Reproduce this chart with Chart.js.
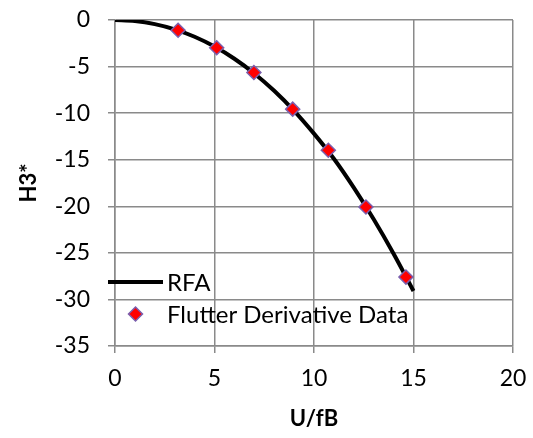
<!DOCTYPE html>
<html>
<head>
<meta charset="utf-8">
<script src="https://cdn.jsdelivr.net/npm/chart.js@4/dist/chart.umd.min.js"></script>
<style>
  html, body { margin: 0; padding: 0; background: #fff; }
  #wrap { width: 533px; height: 438px; }
</style>
</head>
<body>
<div id="wrap"><canvas id="c" width="533" height="438"></canvas></div>
<script>
// RFA fitted curve of H3* against reduced velocity U/fB
const rfaU = [0, 1, 2, 3, 4, 5, 6, 7, 8, 9, 10, 11, 12, 13, 14, 15];
const rfaH3 = [0, -0.11, -0.44, -1.0, -1.8, -2.85, -4.16, -5.74, -7.6, -9.75, -12.2, -14.9, -18.0, -21.4, -25.1, -29.1];

// Measured flutter derivative points
const dataU = [3.17, 5.11, 6.98, 8.93, 10.72, 12.61, 14.62];
const dataH3 = [-1.1, -2.98, -5.63, -9.57, -13.98, -20.07, -27.6];

// Axis ticks
const xTicks = [0, 5, 10, 15, 20];
const yTicks = [0, -5, -10, -15, -20, -25, -30, -35];

const FONT = 'Lato, "Open Sans", sans-serif';
const GRID = '#8a8a8a';

const toPoints = (xs, ys) => xs.map((x, i) => ({ x: x, y: ys[i] }));

// Legend drawn inside the plot area, lower left
const innerLegend = {
  id: 'innerLegend',
  afterDatasetsDraw(chart) {
    const ctx = chart.ctx;
    const ds = chart.data.datasets;
    ctx.save();
    ctx.font = '24px ' + FONT;
    ctx.textBaseline = 'middle';
    ctx.fillStyle = '#000';
    // line entry
    ctx.strokeStyle = ds[0].borderColor;
    ctx.lineWidth = 4;
    ctx.beginPath();
    ctx.moveTo(108, 282);
    ctx.lineTo(163, 282);
    ctx.stroke();
    ctx.fillText(ds[0].label, 167, 283);
    // marker entry
    const cx = 135.5, cy = 314, r = 7;
    ctx.beginPath();
    ctx.moveTo(cx, cy - r);
    ctx.lineTo(cx + r, cy);
    ctx.lineTo(cx, cy + r);
    ctx.lineTo(cx - r, cy);
    ctx.closePath();
    ctx.fillStyle = ds[1].backgroundColor;
    ctx.fill();
    ctx.lineWidth = 1.5;
    ctx.strokeStyle = ds[1].borderColor;
    ctx.stroke();
    ctx.fillStyle = '#000';
    ctx.fillText(ds[1].label, 167, 315);
    ctx.restore();
  }
};

new Chart(document.getElementById('c'), {
  type: 'scatter',
  data: {
    datasets: [
      {
        label: 'RFA',
        data: toPoints(rfaU, rfaH3),
        showLine: true,
        borderColor: '#000',
        backgroundColor: '#000',
        borderWidth: 4,
        pointRadius: 0,
        cubicInterpolationMode: 'monotone',
        order: 2
      },
      {
        label: 'Flutter Derivative Data',
        data: toPoints(dataU, dataH3),
        showLine: false,
        pointStyle: 'rectRot',
        pointRadius: 7,
        pointHoverRadius: 7,
        backgroundColor: '#ff0000',
        borderColor: '#7b5fae',
        borderWidth: 1.5,
        order: 1
      }
    ]
  },
  options: {
    responsive: false,
    animation: false,
    devicePixelRatio: 1,
    layout: { padding: { top: 20, right: 20, left: 0, bottom: 0 } },
    plugins: {
      legend: { display: false },
      tooltip: { enabled: false }
    },
    scales: {
      x: {
        type: 'linear',
        min: 0,
        max: 20,
        afterBuildTicks: (s) => { s.ticks = xTicks.map(v => ({ value: v })); },
        afterFit: (s) => { s.height = 92; s.paddingLeft = 0; s.paddingRight = 0; },
        grid: { color: GRID, lineWidth: 1.5, tickLength: 7, tickColor: GRID },
        border: { color: GRID, width: 1.5 },
        ticks: { color: '#000', font: { family: FONT, size: 23 }, padding: 12, maxRotation: 0 },
        title: {
          display: true,
          text: 'U/fB',
          color: '#000',
          font: { family: FONT, size: 22, weight: 'bold' },
          padding: { top: 0, bottom: 6 }
        }
      },
      y: {
        type: 'linear',
        min: -35,
        max: 0,
        afterBuildTicks: (s) => { s.ticks = yTicks.map(v => ({ value: v })); },
        afterFit: (s) => { s.width = 115; s.paddingTop = 0; s.paddingBottom = 0; },
        grid: { color: GRID, lineWidth: 1.5, tickLength: 7, tickColor: GRID },
        border: { color: GRID, width: 1.5 },
        ticks: { color: '#000', font: { family: FONT, size: 23 }, padding: 18 },
        title: {
          display: true,
          text: 'H3*',
          color: '#000',
          font: { family: FONT, size: 22, weight: 'bold' },
          padding: { top: 16, bottom: 0 }
        }
      }
    }
  },
  plugins: [innerLegend]
});
</script>
</body>
</html>
